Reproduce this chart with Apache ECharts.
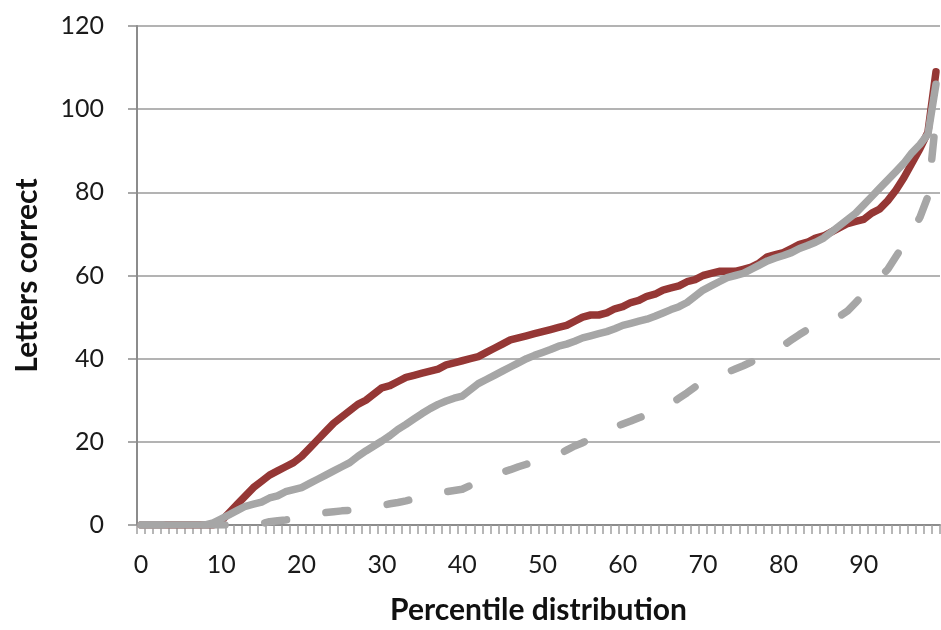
<!DOCTYPE html>
<html>
<head>
<meta charset="utf-8">
<script src="https://cdn.jsdelivr.net/npm/echarts@6/dist/echarts.min.js"></script>
<style>
html,body{margin:0;padding:0;background:#fff;}
#chart{width:941px;height:630px;}
</style>
</head>
<body>
<div id="chart"></div>
<script>
// Percentile categories 0..99
var categories = [];
for (var i = 0; i < 100; i++) categories.push(String(i));

var redSolid = [
0,0,0,0,0,0,0,0,0,0,
1,3,5,7,9,10.5,12,13,14,15,
16.5,18.5,20.5,22.5,24.5,26,27.5,29,30,31.5,
33,33.5,34.5,35.5,36,36.5,37,37.5,38.5,39,
39.5,40,40.5,41.5,42.5,43.5,44.5,45,45.5,46,
46.5,47,47.5,48,49,50,50.5,50.5,51,52,
52.5,53.5,54,55,55.5,56.5,57,57.5,58.5,59,
60,60.5,61,61,61,61.5,62,63,64.5,65,
65.5,66.5,67.5,68,69,69.5,70.5,71.5,72.5,73,
73.5,75,76,78,80.5,83.5,87,90.5,94.5,109
];

var graySolid = [
0,0,0,0,0,0,0,0,0,0.5,
1.5,2.5,3.5,4.5,5,5.5,6.5,7,8,8.5,
9,10,11,12,13,14,15,16.5,17.8,19,
20.2,21.5,23,24.2,25.5,26.8,28,29,29.8,30.5,
31,32.5,34,35,36,37,38,39,40,40.8,
41.5,42.2,43,43.5,44.2,45,45.5,46,46.5,47.2,
48,48.5,49,49.5,50.2,51,51.8,52.5,53.5,55,
56.5,57.5,58.5,59.5,60,60.5,61.5,62.5,63.5,64.2,
64.8,65.5,66.5,67.2,68,69,70.5,72,73.5,75,
77,79,81,83,85,87,89.5,91.5,94,106
];

var grayDashed = [
0,0,0,0,0,0,0,0,0,0,
0,0,0,0,0,0.3,0.8,1,1.2,1.5,
1.8,2.2,2.6,3,3.2,3.4,3.5,3.6,3.8,4.2,
4.7,5.1,5.4,5.8,6.3,6.8,7.2,7.6,8,8.3,
8.6,9.5,10.5,11.3,12,12.7,13.3,14,14.6,15.2,
15.7,16.2,17,18,19,19.8,20.8,21.7,22.7,23.5,
24.3,25,25.8,26.5,27.3,28.3,29.2,30.5,31.8,33.2,
34.2,35.2,36,36.7,37.5,38.3,39.2,40.2,41.2,42.2,
43.2,44.5,45.8,47,48,48.7,49.3,50.2,51.5,53.5,
55.5,57.5,59.5,61.5,64.5,67.5,70.5,74,79,98
];

var yTicks = [0, 20, 40, 60, 80, 100, 120];
var xTitle = 'Percentile distribution';
var yTitle = 'Letters correct';

var chart = echarts.init(document.getElementById('chart'), null, {renderer: 'canvas'});
var fontFam = 'Lato, "Open Sans", sans-serif';
chart.setOption({
  animation: false,
  backgroundColor: '#ffffff',
  grid: {left: 137, right: 1, top: 26, bottom: 103, containLabel: false},
  xAxis: {
    type: 'category',
    data: categories,
    boundaryGap: true,
    name: xTitle,
    nameLocation: 'middle',
    nameGap: 70,
    nameTextStyle: {fontFamily: fontFam, fontWeight: 'bold', fontSize: 30, color: '#111'},
    axisLine: {show: true, lineStyle: {color: '#8c8c8c', width: 2}},
    axisTick: {show: true, interval: 0, length: 9, lineStyle: {color: '#a0a0a0', width: 1.5}},
    axisLabel: {interval: 9, margin: 27, fontFamily: fontFam, fontSize: 25, color: '#1a1a1a'},
    splitLine: {show: false}
  },
  yAxis: {
    type: 'value',
    min: yTicks[0],
    max: yTicks[yTicks.length - 1],
    interval: 20,
    name: yTitle,
    nameLocation: 'middle',
    nameGap: 95,
    nameRotate: 90,
    nameTextStyle: {fontFamily: fontFam, fontWeight: 'bold', fontSize: 30, color: '#111'},
    axisLine: {show: true, lineStyle: {color: '#8c8c8c', width: 2}},
    axisTick: {show: true, length: 9, lineStyle: {color: '#8c8c8c', width: 1.5}},
    axisLabel: {margin: 33, fontFamily: fontFam, fontSize: 25, color: '#1a1a1a'},
    splitLine: {show: true, lineStyle: {color: '#9a9a9a', width: 1.5}}
  },
  series: [
    {
      name: 'red', type: 'line', data: redSolid, showSymbol: false, symbol: 'none',
      lineStyle: {color: '#953735', width: 7.5, cap: 'round', join: 'round'}, z: 3
    },
    {
      name: 'gray', type: 'line', data: graySolid, showSymbol: false, symbol: 'none',
      lineStyle: {color: '#a6a6a6', width: 7.5, cap: 'round', join: 'round'}, z: 4
    },
    {
      name: 'dashed', type: 'line', data: grayDashed, showSymbol: false, symbol: 'none',
      lineStyle: {color: '#a6a6a6', width: 7.5, type: [22, 40], cap: 'round', join: 'round'}, z: 5
    }
  ]
});
</script>
</body>
</html>
